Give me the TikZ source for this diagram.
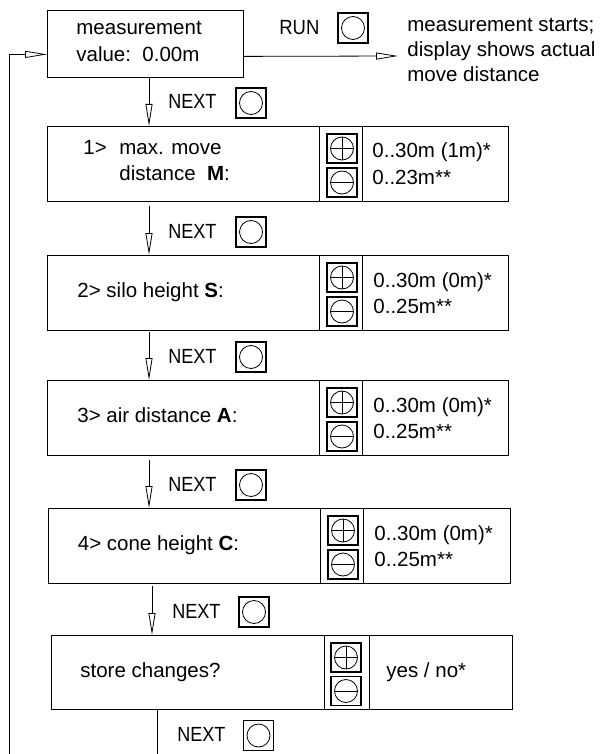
\documentclass[tikz,border=0pt]{standalone}
\usepackage{fontspec}
\setmainfont{Liberation Sans}
\usetikzlibrary{arrows.meta,calc}
\begin{document}
\begin{tikzpicture}[x=1pt,y=-1pt,
  line width=0.8pt,
  every node/.style={font=\fontsize{20.5}{25}\selectfont},
  txt/.style={anchor=base west, inner sep=0pt},
  box/.style={draw, inner sep=0pt, anchor=north west},
  btn/.style={draw, line width=1.2pt, minimum width=30pt, minimum height=30pt, inner sep=0pt,
    path picture={\draw[line width=0.8pt] (path picture bounding box.center) circle[radius=11.5pt];}},
  pbtn/.style={btn, minimum height=29pt,
    path picture={\draw[line width=0.8pt] (path picture bounding box.center) circle[radius=11.5pt];
      \draw[line width=0.8pt] ([xshift=-11.5pt]path picture bounding box.center) -- ([xshift=11.5pt]path picture bounding box.center);
      \draw[line width=0.8pt] ([yshift=-11.5pt]path picture bounding box.center) -- ([yshift=11.5pt]path picture bounding box.center);}},
  mbtn/.style={btn, minimum height=29pt,
    path picture={\draw[line width=0.8pt] (path picture bounding box.center) circle[radius=11.5pt];
      \draw[line width=0.8pt] ([xshift=-11.5pt]path picture bounding box.center) -- ([xshift=11.5pt]path picture bounding box.center);}},
  arr/.style={-{Triangle[open,length=22pt,width=7pt]}},
  nxt/.style={txt},
]
\useasboundingbox (0,0) rectangle (609,754);

% ---- box 0
\node[box, minimum width=196pt, minimum height=67pt] (b0) at (47,10) {};
\node[txt] (b0t1) at (76,35) {measurement};
\node[txt] (b0t2) at (76,61.5) {value:\ \ 0.00m};
\node[txt] (run) at (279,35) {\scalebox{0.9}[1]{RUN}};
\node[btn] (runbtn) at (353,28) {};
\coordinate (runend) at (398,56);
\draw[arr] ([yshift=-12.5pt]b0.east) -- (runend);
\node[txt] (r1) at (407,32) {measurement starts;};
\node[txt] (r2) at (407,57) {display shows actual};
\node[txt] (r3) at (407,82) {move distance};

% ---- box 1
\node[box, minimum width=272pt, minimum height=75pt] (b1l) at (47,126) {};
\node[box, minimum width=43pt, minimum height=75pt] (b1m) at (319,126) {};
\node[box, minimum width=146pt, minimum height=75pt] (b1r) at (362,126) {};
\node[txt] (b1n) at (83,155) {1>};
\node[txt] (b1t1) at (119,155) {max. move};
\node[txt] (b1t2) at (119,180) {distance\ \ \textbf{M}:};
\node[pbtn] (b1p) at (342,148.5) {};
\node[mbtn] (b1q) at (342,182.5) {};
\node[txt] (b1v1) at (372,158) {0..30m (1m)*};
\node[txt] (b1v2) at (372,184) {0..23m**};

% ---- box 2
\node[box, minimum width=272pt, minimum height=75pt] (b2l) at (47,255) {};
\node[box, minimum width=43pt, minimum height=75pt] (b2m) at (319,255) {};
\node[box, minimum width=146pt, minimum height=75pt] (b2r) at (362,255) {};
\node[txt] (b2t) at (77,297) {2> silo height \textbf{S}:};
\node[pbtn] (b2p) at (342,277.5) {};
\node[mbtn] (b2q) at (342,311.5) {};
\node[txt] (b2v1) at (373,287) {0..30m (0m)*};
\node[txt] (b2v2) at (373,313) {0..25m**};

% ---- box 3
\node[box, minimum width=272pt, minimum height=75pt] (b3l) at (47,380) {};
\node[box, minimum width=43pt, minimum height=75pt] (b3m) at (319,380) {};
\node[box, minimum width=146pt, minimum height=75pt] (b3r) at (362,380) {};
\node[txt] (b3t) at (77,422) {3> air distance \textbf{A}:};
\node[pbtn] (b3p) at (342,402.5) {};
\node[mbtn] (b3q) at (342,436.5) {};
\node[txt] (b3v1) at (373,412) {0..30m (0m)*};
\node[txt] (b3v2) at (373,438) {0..25m**};

% ---- box 4
\node[box, minimum width=272pt, minimum height=75pt] (b4l) at (48,508) {};
\node[box, minimum width=43pt, minimum height=75pt] (b4m) at (320,508) {};
\node[box, minimum width=147pt, minimum height=75pt] (b4r) at (363,508) {};
\node[txt] (b4t) at (77.5,550) {4> cone height \textbf{C}:};
\node[pbtn] (b4p) at (343,530.5) {};
\node[mbtn] (b4q) at (343,564.5) {};
\node[txt] (b4v1) at (374,540) {0..30m (0m)*};
\node[txt] (b4v2) at (374,566) {0..25m**};

% ---- box 5
\node[box, minimum width=273pt, minimum height=74pt] (b5l) at (50.5,635) {};
\node[box, minimum width=45.5pt, minimum height=74pt] (b5m) at (323.5,635) {};
\node[box, minimum width=143pt, minimum height=74pt] (b5r) at (369,635) {};
\node[txt] (b5t) at (80,677) {store changes?};
\node[pbtn] (b5p) at (346,657.5) {};
\node[mbtn] (b5q) at (346,691) {};
\node[txt] (b5v) at (386,677) {yes / no*};

% ---- NEXT labels and buttons
\node[nxt] (n0) at (168,109) {\scalebox{0.88}[1]{NEXT}};
\node[btn] (n0b) at (251,103) {};
\node[nxt] (n1) at (168,238) {\scalebox{0.88}[1]{NEXT}};
\node[btn] (n1b) at (251,232) {};
\node[nxt] (n2) at (168,363) {\scalebox{0.88}[1]{NEXT}};
\node[btn] (n2b) at (251,357) {};
\node[nxt] (n3) at (168,491) {\scalebox{0.88}[1]{NEXT}};
\node[btn] (n3b) at (251,485) {};
\node[nxt] (n4) at (172,618) {\scalebox{0.88}[1]{NEXT}};
\node[btn] (n4b) at (254,612) {};
\node[nxt] (n5) at (177,741.5) {\scalebox{0.88}[1]{NEXT}};
\node[btn] (n5b) at (258.5,735.5) {};

% ---- flow arrows
\draw[arr] ([xshift=102pt]b0.south west) -- ([xshift=102pt]b1l.north west);
\draw[arr] ([xshift=102pt,yshift=-4pt]b1l.south west) -- ([xshift=102pt]b2l.north west);
\draw[arr] ([xshift=102pt,yshift=-1pt]b2l.south west) -- ([xshift=102pt]b3l.north west);
\draw[arr] ([xshift=102pt,yshift=-4pt]b3l.south west) -- ([xshift=101pt]b4l.north west);
\draw[arr] ([xshift=104pt,yshift=-2pt]b4l.south west) -- ([xshift=101.5pt]b5l.north west);
\coordinate (bot5) at (157,754);
\draw ([xshift=106.5pt]b5l.south west) -- (bot5);

% ---- loop back
\coordinate (loopbot) at (9.5,754);
\draw[arr] (loopbot) |- ([yshift=-10.5pt]b0.west);
\end{tikzpicture}
\end{document}
